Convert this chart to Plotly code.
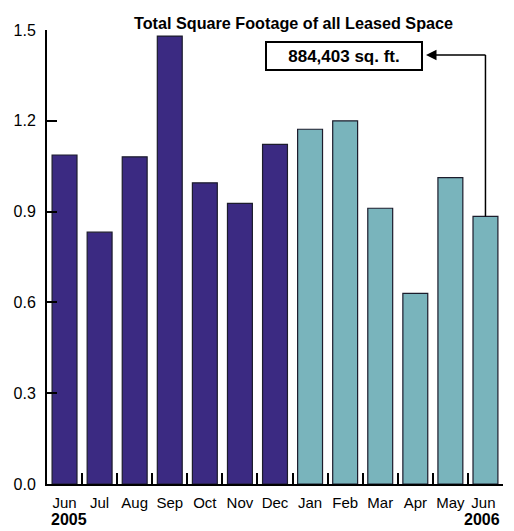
import plotly.graph_objects as go

months = ["Jun", "Jul", "Aug", "Sep", "Oct", "Nov", "Dec",
          "Jan", "Feb", "Mar", "Apr", "May", "Jun "]
values = [1.087, 0.832, 1.081, 1.480, 0.995, 0.927, 1.122,
          1.172, 1.200, 0.911, 0.630, 1.012, 0.884]
years = [2005, 2005, 2005, 2005, 2005, 2005, 2005,
         2006, 2006, 2006, 2006, 2006, 2006]
y_ticks = [0.0, 0.3, 0.6, 0.9, 1.2, 1.5]
title_text = "Total Square Footage of all Leased Space"
callout_text = "884,403 sq. ft."

C2005 = "#3b2a82"
C2006 = "#79b4bc"
FONT = "Liberation Sans, Arial, sans-serif"

colors = [C2005 if y == 2005 else C2006 for y in years]

fig = go.Figure(go.Bar(
    x=months, y=values,
    marker=dict(color=colors, line=dict(color="#1c1c2c", width=1.2)),
    width=0.71,
))

# page body has an 8px margin; figure sized to fit the window
OFF = 8
W, H = 514 - OFF, 531 - OFF
L, T = 47 - OFF, 30 - OFF
R = W - (503 - OFF)
B = H - (484 - OFF)
PW, PH = W - L - R, H - T - B


def px(xp):
    return (xp - OFF - L) / PW


def py(yp):
    return (H - B - (yp - OFF)) / PH


fig.update_layout(
    width=W, height=H,
    margin=dict(l=L, r=R, t=T, b=B, autoexpand=False),
    plot_bgcolor="white", paper_bgcolor="white",
    showlegend=False,
    font=dict(family=FONT, color="black", size=15),
)
fig.update_xaxes(
    type="category", range=[-0.5, len(months) - 0.5],
    showline=True, linecolor="black", linewidth=2,
    ticks="inside", tickson="boundaries", ticklen=11, tickwidth=2, tickcolor="black",
    tickfont=dict(size=15, family=FONT), tickangle=0, ticklabelstandoff=4,
    showgrid=False, zeroline=False, automargin=False,
)
fig.update_yaxes(
    range=[0, 1.5],
    tickvals=y_ticks, ticktext=[f"{v:.1f}" for v in y_ticks],
    showline=True, linecolor="black", linewidth=2,
    ticks="inside", ticklen=10, tickwidth=2, tickcolor="black",
    tickfont=dict(size=16, family=FONT), ticklabelstandoff=6,
    showgrid=False, zeroline=False, automargin=False,
)

arrow_y = py(55)

annotations = [
    dict(text="<b>" + title_text + "</b>", xref="paper", yref="paper",
         x=px(293), y=py(23),
         xanchor="center", yanchor="middle", showarrow=False,
         font=dict(size=16.2, family=FONT)),
    dict(text="<b>" + callout_text + "</b>", xref="paper", yref="paper",
         x=px(344), y=py(56.5),
         xanchor="center", yanchor="middle", showarrow=False,
         width=154, height=26, bordercolor="black", borderwidth=2, borderpad=0,
         bgcolor="white", font=dict(size=17, family=FONT)),
    dict(text="", xref="paper", yref="paper",
         x=px(426), y=arrow_y,
         ax=61, ay=0, axref="pixel", ayref="pixel",
         showarrow=True, arrowhead=2, arrowsize=1.4, arrowwidth=1.5, arrowcolor="black"),
    dict(text="<b>2005</b>", xref="x", yref="paper", x=0, y=py(530),
         xanchor="center", yanchor="bottom", showarrow=False, xshift=4,
         font=dict(size=16, family=FONT)),
    dict(text="<b>2006</b>", xref="x", yref="paper", x=len(months) - 1, y=py(530),
         xanchor="center", yanchor="bottom", showarrow=False, xshift=-3,
         font=dict(size=16, family=FONT)),
]
fig.update_layout(annotations=annotations)

# connector from the last bar's top up to the callout arrow
fig.add_shape(type="line", xref="x", yref="y",
              x0=len(months) - 1, x1=len(months) - 1,
              y0=values[-1], y1=arrow_y * 1.5,
              line=dict(color="black", width=1.5))

fig.write_html("out.html")
